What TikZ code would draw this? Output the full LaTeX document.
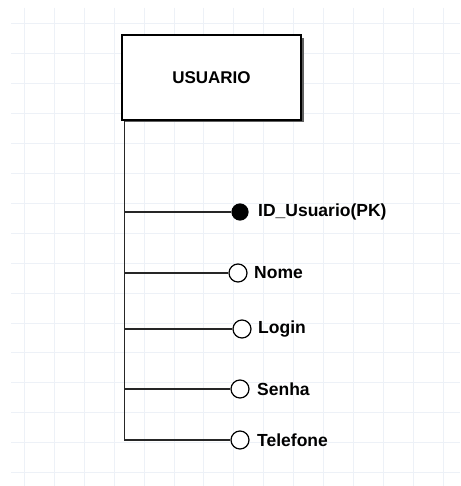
\documentclass[tikz,border=0pt]{standalone}
\usepackage{fontspec}
\setmainfont{Liberation Sans}
\usetikzlibrary{calc}
\definecolor{gridc}{HTML}{EDF1F7}
\definecolor{shadowc}{HTML}{606060}
\tikzset{
  entity/.style={draw=black, line width=1.2pt, fill=white, minimum width=179pt, minimum height=85pt, inner sep=0pt,
    font=\fontsize{17}{20}\selectfont\bfseries},
  attr/.style={circle, draw=black, line width=1.2pt, fill=white, minimum size=18pt, inner sep=0pt},
  pkattr/.style={attr, fill=black, minimum size=16pt},
  attrlabel/.style={anchor=west, inner sep=0pt, font=\fontsize{17.5}{20}\selectfont\bfseries},
  link/.style={draw=black!85, line width=1.2pt}
}
\begin{document}
\begin{tikzpicture}[x=1pt,y=-1pt]
\useasboundingbox (0,0) rectangle (460,486);
\fill[white] (0,0) rectangle (460,486);
% grid
\foreach \k in {0,...,14} {
  \draw[gridc, line width=1pt] ({24.5+29.9*\k},8) -- ({24.5+29.9*\k},486);
}
\foreach \k in {0,...,15} {
  \draw[gridc, line width=1pt] (11,{24+29.9*\k}) -- (460,{24+29.9*\k});
}
% shadow
\fill[shadowc] (125,38) rectangle (303.5,122.5);
\node[entity] (usuario) at (211.5,77.5) {USUARIO};
% attributes
\node[pkattr] (c1) at (240,212) {};
\node[attr] (c2) at (238,273) {};
\node[attr] (c3) at (242,329) {};
\node[attr] (c4) at (240,389) {};
\node[attr] (c5) at (240,440) {};
\node[attrlabel] (l1) at (258,212) {ID\_Usuario(PK)};
\node[attrlabel] (l2) at (254,273) {Nome};
\node[attrlabel] (l3) at (258,329) {Login};
\node[attrlabel] (l4) at (257,389) {Senha};
\node[attrlabel] (l5) at (257,440) {Telefone};
\coordinate (top) at ($(usuario.south west)+(3,0)$);
\draw[link] (top) |- (c5.west);
\foreach \i in {1,2,3,4} {
  \draw[link] (top |- c\i) -- (c\i.west);
}
\end{tikzpicture}
\end{document}
